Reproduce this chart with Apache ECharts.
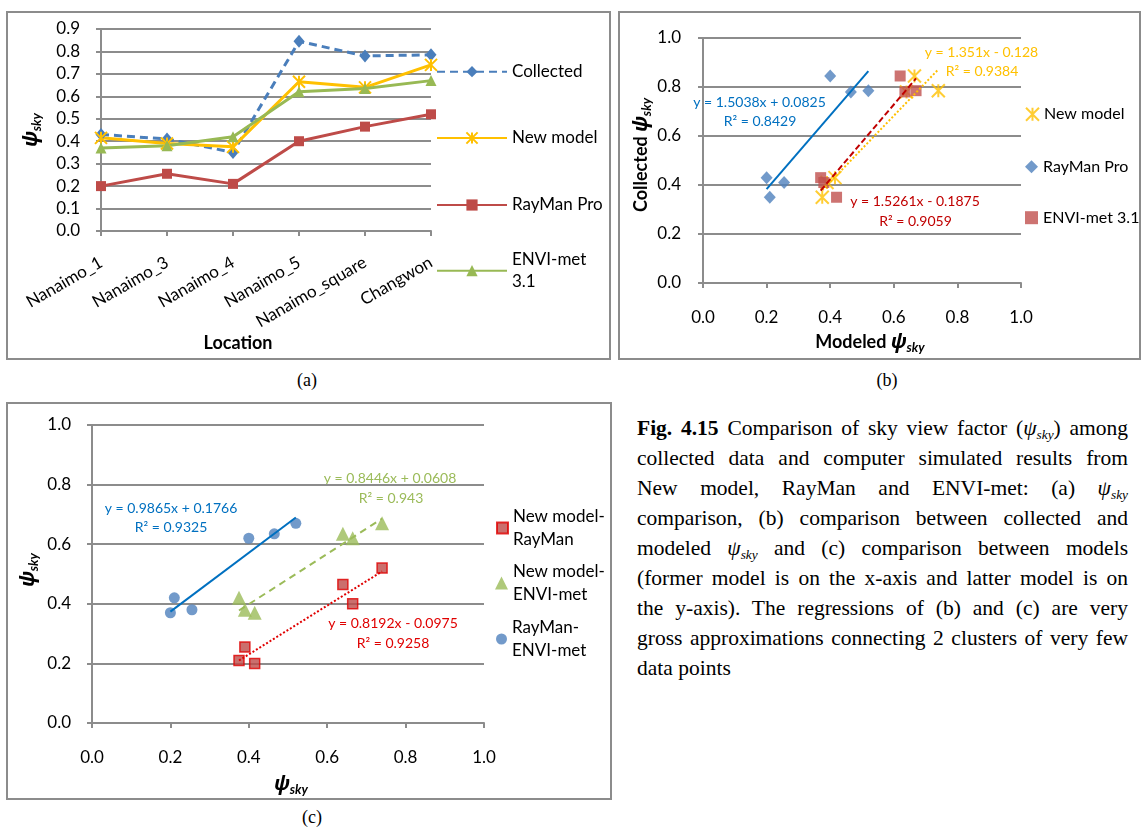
<!DOCTYPE html>
<html>
<head>
<meta charset="utf-8">
<script src="https://cdn.jsdelivr.net/npm/echarts@6/dist/echarts.min.js"></script>
<style>
  html, body { margin: 0; padding: 0; background: #fff; }
  body { width: 1144px; height: 828px; position: relative; overflow: hidden; }
  .panel { position: absolute; border: 2px solid #8c8c8c; box-sizing: border-box; }
  .panel .ch { position: absolute; left: 0; top: 0; width: 100%; height: 100%; }
  .tag { position: absolute; font-family: 'Liberation Serif', 'Times New Roman', serif; font-size: 18px; color: #000;
         transform: translate(-50%, -50%); white-space: nowrap; }
  #caption { position: absolute; left: 637px; top: 413px; width: 491px;
             font-family: 'Liberation Serif', 'Times New Roman', serif; font-size: 21.5px; line-height: 30px; color: #000; }
  #caption div { text-align: justify; text-align-last: justify; white-space: nowrap; }
  #caption div.last { text-align-last: left; }
  #caption sub { font-size: 0.62em; vertical-align: -0.3em; line-height: 0; }
</style>
</head>
<body>
<div class="panel" id="pa" style="left:6px;top:11px;width:605px;height:349px;"><div class="ch" id="ca"></div></div>
<div class="panel" id="pb" style="left:618px;top:11px;width:523px;height:349px;"><div class="ch" id="cb"></div></div>
<div class="panel" id="pc" style="left:6px;top:402px;width:606px;height:398px;"><div class="ch" id="cc"></div></div>
<div class="tag" style="left:307px;top:380px;">(a)</div>
<div class="tag" style="left:887px;top:380px;">(b)</div>
<div class="tag" style="left:312px;top:817px;">(c)</div>
<div id="caption">
  <div><b>Fig. 4.15</b> Comparison of sky view factor (<i>ψ<sub>sky</sub></i>) among</div>
  <div>collected data and computer simulated results from</div>
  <div>New model, RayMan and ENVI-met: (a) <i>ψ<sub>sky</sub></i></div>
  <div>comparison, (b) comparison between collected and</div>
  <div>modeled <i>ψ<sub>sky</sub></i> and (c) comparison between models</div>
  <div>(former model is on the x-axis and latter model is on</div>
  <div>the y-axis). The regressions of (b) and (c) are very</div>
  <div>gross approximations connecting 2 clusters of very few</div>
  <div class="last">data points</div>
</div>
<script>
// ---- sky view factor per location ----
const locations = ['Nanaimo_1', 'Nanaimo_3', 'Nanaimo_4', 'Nanaimo_5', 'Nanaimo_square', 'Changwon'];
const collected = [0.43, 0.41, 0.35, 0.845, 0.78, 0.785];
const newModel  = [0.415, 0.39, 0.375, 0.665, 0.64, 0.74];
const rayman    = [0.20, 0.255, 0.21, 0.40, 0.465, 0.52];
const envimet   = [0.37, 0.38, 0.42, 0.62, 0.635, 0.67];

// ---- axis ranges / tick steps ----
const yTicksA = { min: 0, max: 0.9, step: 0.1 };
const xyTicksBC = { min: 0, max: 1.0, step: 0.2 };

// ---- linear fits (slope, intercept, R²) as reported ----
// (b): collected vs modeled — New model, RayMan Pro, ENVI-met 3.1
const fitSlopeB = [1.351, 1.5038, 1.5261];
const fitInterceptB = [-0.128, 0.0825, -0.1875];
const fitR2B = ['0.9384', '0.8429', '0.9059'];
// (c): model vs model — New model-RayMan, New model-ENVI-met, RayMan-ENVI-met
const fitSlopeC = [0.8192, 0.8446, 0.9865];
const fitInterceptC = [-0.0975, 0.0608, 0.1766];
const fitR2C = ['0.9258', '0.943', '0.9325'];

// ---- shared styling ----
const GRID = '#8c8c8c';
const FONT = 'Lato';
const STAR = 'path://M0 0L10 10M10 0L0 10M5 0L5 10';
const C_BLUE = '#4f81bd', C_RED = '#c0504d', C_GREEN = '#9bbb59', C_GOLD = '#ffc000';

const zip = (xs, ys) => xs.map((x, i) => [x, ys[i]]);
const fitLine = (xs, m, b) => {
  const x0 = Math.min(...xs), x1 = Math.max(...xs);
  return [[x0, m * x0 + b], [x1, m * x1 + b]];
};
const eqText = (m, b) => `y = ${m}x ${b < 0 ? '-' : '+'} ${Math.abs(b)}`;
const r2Text = r => `R² = ${r}`;

const psiRich = {
  t: { fontSize: 18, fontWeight: 'bold', fontFamily: FONT, color: '#000' },
  p: { fontSize: 20, fontWeight: 'bold', fontStyle: 'italic', fontFamily: 'Noto Sans', color: '#000' },
  s: { fontSize: 13, fontWeight: 'bold', fontStyle: 'italic', fontFamily: FONT, color: '#000', padding: [10, 0, 0, 0] }
};

function valueAxis(t, labelMargin, extra) {
  return Object.assign({
    type: 'value', min: t.min, max: t.max, interval: t.step,
    axisLine: { show: true, lineStyle: { color: GRID, width: 2 } },
    axisTick: { show: true, length: 5, lineStyle: { color: GRID, width: 2 } },
    splitLine: { show: false },
    axisLabel: { formatter: v => v.toFixed(1), fontSize: 17, fontFamily: FONT, color: '#000', margin: labelMargin },
    nameMoveOverlap: false
  }, extra);
}

function singleLegend(name, left, top, w, h, extra) {
  return Object.assign({
    data: [name], left: left, top: top, orient: 'vertical', padding: 0,
    itemWidth: w, itemHeight: h, itemGap: 0, selectedMode: false,
    textStyle: { fontSize: 17, fontFamily: FONT, color: '#000', lineHeight: 20 }
  }, extra);
}

function label(x, y, text, color) {
  return { type: 'text', x: x, y: y, silent: true,
    style: { text: text, fill: color, font: '14px Lato', align: 'center', verticalAlign: 'middle' } };
}

// ================= (a) line chart by location =================
const chartA = echarts.init(document.getElementById('ca'), null, { renderer: 'canvas' });
chartA.setOption({
  animation: false,
  grid: { left: 93, top: 16, width: 330, height: 202, outerBoundsMode: 'none' },
  xAxis: {
    type: 'category', data: locations, boundaryGap: false,
    axisLine: { show: true, lineStyle: { color: GRID, width: 2 } },
    axisTick: { show: true, length: 5, lineStyle: { color: GRID, width: 2 } },
    axisLabel: { rotate: 30, interval: 0, margin: 30, fontSize: 17, fontFamily: FONT, color: '#000' },
    name: 'Location', nameLocation: 'middle', nameGap: 103, nameMoveOverlap: false,
    nameTextStyle: { fontSize: 18, fontWeight: 'bold', fontFamily: FONT, color: '#000', padding: [0, 56, 0, 0] }
  },
  yAxis: valueAxis(yTicksA, 21, {
    splitLine: { show: true, lineStyle: { color: GRID, width: 2 } },
    name: '{p|ψ}{s|sky}', nameLocation: 'middle', nameRotate: 90, nameGap: 58,
    nameTextStyle: { rich: psiRich }
  }),
  legend: [
    singleLegend('Collected', 428, 48.7, 70, 14),
    singleLegend('New model', 428, 115, 70, 14),
    singleLegend('RayMan Pro', 428, 182, 70, 14),
    singleLegend('ENVI-met 3.1', 428, 224.7, 70, 14, {
      formatter: n => n.replace(' 3.1', '\n3.1'),
      textStyle: { fontSize: 17, fontFamily: FONT, color: '#000', lineHeight: 22, padding: [22, 0, 0, 0] }
    })
  ],
  series: [
    { name: 'Collected', type: 'line', data: collected, symbol: 'diamond', symbolSize: [11, 13],
      lineStyle: { color: '#4a7ebb', width: 3, type: [8, 5] }, itemStyle: { color: '#4a7ebb' } },
    { name: 'New model', type: 'line', data: newModel, symbol: STAR, symbolSize: 12,
      lineStyle: { color: C_GOLD, width: 3 }, itemStyle: { color: C_GOLD, borderColor: C_GOLD, borderWidth: 2 } },
    { name: 'RayMan Pro', type: 'line', data: rayman, symbol: 'rect', symbolSize: 10,
      lineStyle: { color: '#be4b48', width: 3 }, itemStyle: { color: '#be4b48' } },
    { name: 'ENVI-met 3.1', type: 'line', data: envimet, symbol: 'triangle', symbolSize: 11,
      lineStyle: { color: '#98b954', width: 3 }, itemStyle: { color: '#98b954' } }
  ]
});

// ================= (b) collected vs modeled =================
const chartB = echarts.init(document.getElementById('cb'), null, { renderer: 'canvas' });
const modeledB = [newModel, rayman, envimet];
const legendB = { fontSize: 16, fontFamily: FONT, color: '#000', lineHeight: 20 };
chartB.setOption({
  animation: false,
  grid: { left: 83, top: 25, width: 318, height: 245, outerBoundsMode: 'none' },
  xAxis: valueAxis(xyTicksBC, 26, {
    name: '{t|Modeled }{p|ψ}{s|sky}', nameLocation: 'middle', nameGap: 48,
    nameTextStyle: { rich: psiRich, padding: [0, 0, 0, 16] }
  }),
  yAxis: valueAxis(xyTicksBC, 22, {
    splitLine: { show: true, lineStyle: { color: GRID, width: 2 } },
    name: '{t|Collected }{p|ψ}{s|sky}', nameLocation: 'middle', nameRotate: 90, nameGap: 50,
    nameTextStyle: { rich: psiRich, padding: [0, 0, 0, 11] }
  }),
  legend: [
    singleLegend('New model', 405, 91.3, 13, 13, { textStyle: legendB }),
    singleLegend('RayMan Pro', 405, 143.7, 13, 13, { textStyle: legendB }),
    singleLegend('ENVI-met 3.1', 405, 194.7, 13, 13, { textStyle: legendB })
  ],
  series: [
    { name: 'New model', type: 'scatter', data: zip(newModel, collected), symbol: STAR, symbolSize: 13,
      itemStyle: { color: C_GOLD, borderColor: C_GOLD, borderWidth: 2 } },
    { name: 'RayMan Pro', type: 'scatter', data: zip(rayman, collected), symbol: 'diamond', symbolSize: [12, 13],
      itemStyle: { color: C_BLUE } },
    { name: 'ENVI-met 3.1', type: 'scatter', data: zip(envimet, collected), symbol: 'rect', symbolSize: 11,
      itemStyle: { color: C_RED } },
    { name: 'Linear (New model)', type: 'line', silent: true, symbol: 'none',
      data: fitLine(modeledB[0], fitSlopeB[0], fitInterceptB[0]),
      lineStyle: { color: C_GOLD, width: 2, type: 'dotted' } },
    { name: 'Linear (RayMan Pro)', type: 'line', silent: true, symbol: 'none',
      data: fitLine(modeledB[1], fitSlopeB[1], fitInterceptB[1]),
      lineStyle: { color: '#0070c0', width: 2 } },
    { name: 'Linear (ENVI-met 3.1)', type: 'line', silent: true, symbol: 'none',
      data: fitLine(modeledB[2], fitSlopeB[2], fitInterceptB[2]),
      lineStyle: { color: '#c00000', width: 2, type: [6, 3] } }
  ],
  graphic: [
    label(361.5, 39.7, eqText(fitSlopeB[0], fitInterceptB[0]), C_GOLD),
    label(362, 58, r2Text(fitR2B[0]), C_GOLD),
    label(139.5, 89.7, eqText(fitSlopeB[1], fitInterceptB[1]), '#0070c0'),
    label(140, 108.7, r2Text(fitR2B[1]), '#0070c0'),
    label(295, 188.7, eqText(fitSlopeB[2], fitInterceptB[2]), '#c00000'),
    label(295.5, 208, r2Text(fitR2B[2]), '#c00000')
  ]
});

// ================= (c) model vs model =================
const chartC = echarts.init(document.getElementById('cc'), null, { renderer: 'canvas' });
const pairXs = [newModel, newModel, rayman];
const legendC = { lineHeight: 23, padding: [23, 0, 0, 0], fontSize: 17, fontFamily: FONT, color: '#000' };
const splitName = n => n.replace('-', '-\n');
chartC.setOption({
  animation: false,
  grid: { left: 84, top: 21, width: 392, height: 298, outerBoundsMode: 'none' },
  xAxis: valueAxis(xyTicksBC, 26, {
    name: '{p|ψ}{s|sky}', nameLocation: 'middle', nameGap: 50,
    nameTextStyle: { rich: psiRich, padding: [0, 0, 0, 6] }
  }),
  yAxis: valueAxis(xyTicksBC, 21, {
    splitLine: { show: true, lineStyle: { color: GRID, width: 2 } },
    name: '{p|ψ}{s|sky}', nameLocation: 'middle', nameRotate: 90, nameGap: 52,
    nameTextStyle: { rich: psiRich, padding: [0, 0, 0, 8] }
  }),
  legend: [
    singleLegend('New model-RayMan', 488, 89.5, 11, 11, { formatter: splitName, textStyle: legendC }),
    singleLegend('New model-ENVI-met', 487, 144.5, 13, 13, { formatter: splitName, textStyle: legendC }),
    singleLegend('RayMan-ENVI-met', 488, 200.5, 11, 11, { formatter: splitName, textStyle: legendC })
  ],
  series: [
    { name: 'New model-RayMan', type: 'scatter', data: zip(newModel, rayman), symbol: 'rect', symbolSize: 10,
      itemStyle: { color: '#be4b48', borderColor: '#e00000', borderWidth: 1.5 } },
    { name: 'New model-ENVI-met', type: 'scatter', data: zip(newModel, envimet), symbol: 'triangle', symbolSize: 14,
      itemStyle: { color: C_GREEN } },
    { name: 'RayMan-ENVI-met', type: 'scatter', data: zip(rayman, envimet), symbol: 'circle', symbolSize: 11,
      itemStyle: { color: C_BLUE } },
    { name: 'Linear (New model-RayMan)', type: 'line', silent: true, symbol: 'none',
      data: fitLine(pairXs[0], fitSlopeC[0], fitInterceptC[0]),
      lineStyle: { color: '#e00000', width: 2, type: 'dotted' } },
    { name: 'Linear (New model-ENVI-met)', type: 'line', silent: true, symbol: 'none',
      data: fitLine(pairXs[1], fitSlopeC[1], fitInterceptC[1]),
      lineStyle: { color: C_GREEN, width: 2, type: [7, 5] } },
    { name: 'Linear (RayMan-ENVI-met)', type: 'line', silent: true, symbol: 'none',
      data: fitLine(pairXs[2], fitSlopeC[2], fitInterceptC[2]),
      lineStyle: { color: '#0070c0', width: 2 } }
  ],
  graphic: [
    label(163, 104, eqText(fitSlopeC[2], fitInterceptC[2]), '#0070c0'),
    label(163, 123, r2Text(fitR2C[2]), '#0070c0'),
    label(382, 74, eqText(fitSlopeC[1], fitInterceptC[1]), C_GREEN),
    label(383, 94, r2Text(fitR2C[1]), C_GREEN),
    label(385, 219, eqText(fitSlopeC[0], fitInterceptC[0]), '#e00000'),
    label(385, 239, r2Text(fitR2C[0]), '#e00000')
  ]
});
</script>
</body>
</html>
